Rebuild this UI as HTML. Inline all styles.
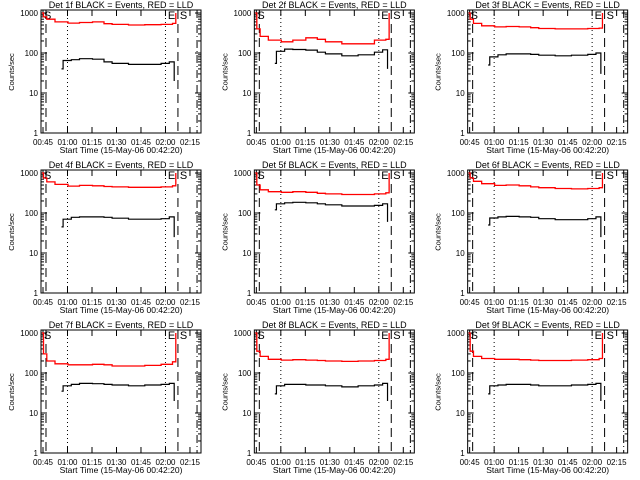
<!DOCTYPE html>
<html><head><meta charset="utf-8"><style>
html,body{margin:0;padding:0;background:#fff;}
svg{display:block;font-family:"Liberation Sans",sans-serif;}
</style></head><body>
<svg id="chart" width="640" height="480" viewBox="0 0 640 480" xmlns="http://www.w3.org/2000/svg"></svg>
<script>
// time samples: minutes after 00:42:20
const redTimes = [2, 3, 5, 10, 18, 25, 33, 40, 45, 55, 65, 75, 82, 84];
const blackTimes = [14, 15, 20, 25, 33, 40, 45, 55, 65, 75, 80, 83];
const detNames = ["1f","2f","3f","4f","5f","6f","7f","8f","9f"];
const redValues = [
  [1000,800,700,600,560,580,600,540,520,500,510,520,550,1000],
  [1000,400,260,210,190,210,240,220,190,170,170,210,220,1000],
  [1000,700,550,480,450,460,450,430,410,400,400,410,420,1000],
  [1000,750,600,520,470,490,480,460,450,440,440,450,480,1000],
  [1000,500,380,340,330,340,330,310,300,290,290,300,320,1000],
  [1000,750,620,540,490,500,480,450,430,410,400,410,430,1000],
  [1000,300,200,170,160,160,165,160,150,150,155,165,190,1000],
  [1000,350,260,220,210,215,210,205,200,195,200,205,220,1000],
  [1000,350,260,230,220,220,215,210,205,205,210,215,230,1000]
];
const blackValues = [
  [40,65,68,72,70,60,55,52,52,55,60,20],
  [55,110,125,122,118,105,95,85,90,105,120,40],
  [50,80,90,95,95,92,88,85,88,92,100,30],
  [45,70,78,80,80,78,74,70,70,72,80,25],
  [120,170,180,185,180,170,160,150,150,155,170,60],
  [50,75,80,82,80,78,72,68,68,72,80,25],
  [35,48,52,55,54,52,50,48,50,52,55,20],
  [30,48,52,52,50,50,48,45,48,50,55,20],
  [30,48,50,52,52,50,48,48,50,52,55,20]
];
const xTickTimes = [2.67,17.67,32.67,47.67,62.67,77.67,92.67];
const xTickLabels = ["00:45","01:00","01:15","01:30","01:45","02:00","02:15"];
const yTickValues = [1,10,100,1000];
const yTickLabels = ["1","10","100","1000"];
const dashedTimes = [4.5, 85.3];
const dottedTimes = [17.67, 77.67];
const dashDotTime = 97;

const NS = "http://www.w3.org/2000/svg";
const svg = document.getElementById('chart');
const L = 41, R = 201, T = 10, B = 133;
function xs(t){ return 43 + (t - 2.67) * 1.633; }
function ys(v){ return 133 - Math.log10(v) * 40; }
function mk(tag, attrs, parent){
  const e = document.createElementNS(NS, tag);
  for (const k in attrs) e.setAttribute(k, attrs[k]);
  parent.appendChild(e); return e;
}
function stepPath(times, vals){
  let d = "M" + xs(times[0]).toFixed(1) + "," + ys(vals[0]).toFixed(1);
  for (let i = 1; i < times.length; i++){
    d += " H" + xs(times[i]).toFixed(1) + " V" + ys(vals[i]).toFixed(1);
  }
  return d;
}
for (let p = 0; p < 9; p++){
  const col = p % 3, row = Math.floor(p / 3);
  const g = mk('g', {transform: 'translate(' + (col*213.33).toFixed(2) + ',' + (row*160) + ')'}, svg);
  
  
  const title = mk('text', {x: 121, y: 8, 'font-size': 9, 'text-anchor': 'middle'}, g);
  title.textContent = "Det " + detNames[p] + " BLACK = Events, RED = LLD";
  
  
  const box = mk('rect', {x: L, y: T, width: R-L, height: B-T, fill: 'none', stroke: '#000', 'stroke-width': 1}, g);
  
  
  for (let i = 0; i < yTickValues.length; i++){
    const y = ys(yTickValues[i]);
    mk('line', {x1: L, x2: L+6, y1: y, y2: y, stroke: '#000'}, g);
    mk('line', {x1: R-6, x2: R, y1: y, y2: y, stroke: '#000'}, g);
    const t = mk('text', {x: L-3, y: y+3, 'font-size': 8, 'text-anchor': 'end'}, g);
    t.textContent = yTickLabels[i];
    
    
    if (i < yTickValues.length - 1){
      for (let m = 2; m <= 9; m++){
        const ym = ys(yTickValues[i]*m);
        mk('line', {x1: L, x2: L+3, y1: ym, y2: ym, stroke: '#000'}, g);
        mk('line', {x1: R-3, x2: R, y1: ym, y2: ym, stroke: '#000'}, g);
      }
    }
  }
  for (let i = 0; i < xTickTimes.length; i++){
    const x = xs(xTickTimes[i]);
    mk('line', {x1: x, x2: x, y1: B, y2: B-6, stroke: '#000'}, g);
    mk('line', {x1: x, x2: x, y1: T, y2: T+6, stroke: '#000'}, g);
    const t = mk('text', {x: x, y: 145, 'font-size': 8, 'text-anchor': 'middle'}, g);
    t.textContent = xTickLabels[i];
    
    
  }
  const xt = mk('text', {x: 121, y: 153, 'font-size': 8.5, 'text-anchor': 'middle'}, g);
  xt.textContent = "Start Time (15-May-06 00:42:20)";
  
  
  const yt = mk('text', {x: 0, y: 0, 'font-size': 7.5, 'text-anchor': 'middle', transform: 'translate(14,72) rotate(-90)'}, g);
  yt.textContent = "Counts/sec";
  
  
  dashedTimes.forEach(tt => {
    const l = mk('line', {x1: xs(tt), x2: xs(tt), y1: T, y2: B, stroke: '#000', 'stroke-dasharray': '9,5'}, g);
    
    
  });
  dottedTimes.forEach(tt => {
    const l = mk('line', {x1: xs(tt), x2: xs(tt), y1: T, y2: B, stroke: '#000', 'stroke-dasharray': '1,3'}, g);
    
    
  });
  const dd = mk('line', {x1: xs(dashDotTime), x2: xs(dashDotTime), y1: T, y2: B, stroke: '#000', 'stroke-dasharray': '8,3,1,3'}, g);
  
  
  [["S", xs(dashedTimes[0])-2], ["E", xs(dashedTimes[1])-10], ["S", xs(dashedTimes[1])+2]].forEach(a => {
    const t = mk('text', {x: a[1], y: 19, 'font-size': 11}, g);
    t.textContent = a[0];
    
    
  });
  const red = mk('path', {d: stepPath(redTimes, redValues[p]), fill: 'none', stroke: '#ff0000', 'stroke-width': 1.3}, g);
  
  
  const blk = mk('path', {d: stepPath(blackTimes, blackValues[p]), fill: 'none', stroke: '#000', 'stroke-width': 1.2}, g);
  
  
}
</script>
</body></html>
